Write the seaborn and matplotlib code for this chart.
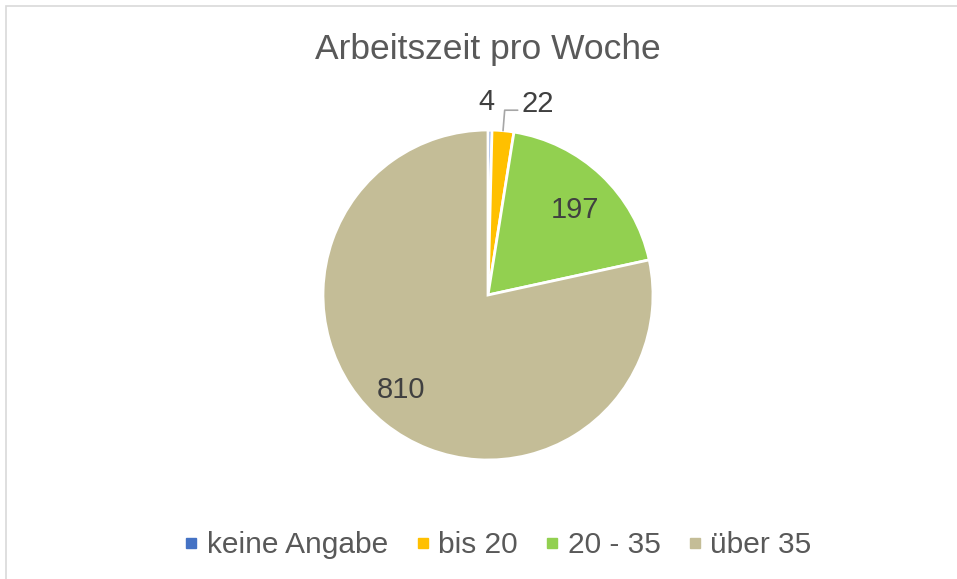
import numpy as np
import seaborn as sns
import matplotlib.pyplot as plt
from matplotlib.patches import Rectangle
from matplotlib.lines import Line2D

# Data
categories = ["keine Angabe", "bis 20", "20 - 35", "über 35"]
counts = [4, 22, 197, 810]
colors = ["#4472C4", "#FFC000", "#92D050", "#C4BD97"]

sns.set_theme(style="white")
plt.rcParams["font.family"] = ["Liberation Sans", "DejaVu Sans"]
text_col = "#595959"

fig = plt.figure(figsize=(9.57, 5.79), dpi=100)
ax = fig.add_axes([(488 - 165) / 957, 1 - 460 / 579, 330 / 957, 330 / 579])

wedges, _ = ax.pie(counts, colors=colors, startangle=90, counterclock=False,
                   wedgeprops=dict(edgecolor="white", linewidth=2))
ax.set_aspect("equal")
ax.set_xlim(-1, 1)
ax.set_ylim(-1, 1)

# value labels inside the big slices
for w, v in zip(wedges, counts):
    mid = np.deg2rad((w.theta1 + w.theta2) / 2)
    if v > 500:
        ax.text(0.78 * np.cos(mid) - 0.04, 0.78 * np.sin(mid) + 0.03, str(v), ha="center",
                va="center", fontsize=21, color="#404040")
    elif v > 100:
        ax.text(0.74 * np.cos(mid) + 0.02, 0.74 * np.sin(mid) - 0.02, str(v), ha="center",
                va="center", fontsize=21, color="#404040")

# small slices: labels outside with a leader line
w22 = wedges[1]
ax.text(-0.01, 1.17, "4", ha="center", va="center", fontsize=21, color="#404040",
        clip_on=False)
m22 = np.deg2rad((w22.theta1 + w22.theta2) / 2)
x0, y0 = np.cos(m22), np.sin(m22)
ax.plot([x0, x0 + 0.01, 0.18], [y0, 1.12, 1.12], color="#A6A6A6",
        lw=1.2, clip_on=False)
ax.text(0.30, 1.16, "22", ha="center", va="center", fontsize=21, color="#404040",
        clip_on=False)

# title
fig.text(488 / 957, 1 - 49 / 579, "Arbeitszeit pro Woche", ha="center", va="center",
         fontsize=25.5, color=text_col)

# legend
handles = [Line2D([], [], marker="s", linestyle="", markersize=7, color=c) for c in colors]
fig.legend(handles, categories, loc="center", bbox_to_anchor=(497 / 957, 1 - 545 / 579),
           ncol=4, frameon=False, fontsize=21.5, handlelength=0.6, handletextpad=0.22,
           columnspacing=0.85, labelcolor=text_col)

# chart border
fig.patches.append(Rectangle((6 / 957, -0.01), 1.0, 1 - 6 / 579 + 0.01,
                             transform=fig.transFigure, fill=False,
                             edgecolor="#D9D9D9", lw=1.2))

plt.savefig("out.png", dpi=100)
